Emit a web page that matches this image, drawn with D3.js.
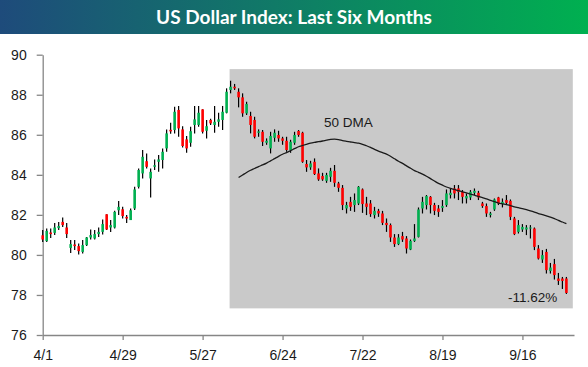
<!DOCTYPE html>
<html>
<head>
<meta charset="utf-8">
<script src="https://cdn.jsdelivr.net/npm/d3@7"></script>
<style>
    body { margin: 0; background: #fff; }
    #chart text { font-family: "Liberation Sans", Arial, sans-serif; }
</style>
</head>
<body>
<div id="chart"></div>
<script>
// US Dollar Index, daily candles from 4/1 (index 0) to the end of September
const tickLabels = ['4/1', '4/29', '5/27', '6/24', '7/22', '8/19', '9/16'];
const tickIndex = [0, 20, 40, 60, 80, 100, 120];
const yTicks = [76, 78, 80, 82, 84, 86, 88, 90];

const opens = [
    80.98, 80.69, 81.12, 81.10, 81.34, 81.65, 81.37, 80.35, 80.52, 80.44,
    80.15, 80.49, 80.87, 80.82, 81.04, 81.15, 82.03, 81.37, 81.37, 82.23,
    82.28, 81.90, 81.74, 82.32, 83.40, 84.07, 84.68, 83.82, 84.40, 84.65,
    84.74, 85.32, 86.25, 86.24, 87.24, 86.27, 85.77, 85.60, 86.49, 86.49,
    87.27, 86.20, 86.74, 86.49, 86.65, 86.74, 87.10, 88.24, 88.40, 88.15,
    87.87, 87.07, 86.94, 86.74, 86.10, 86.15, 85.60, 85.32, 85.85, 85.99,
    85.82, 85.70, 85.24, 85.60, 86.19, 86.10, 84.54, 84.37, 84.65, 84.07,
    83.94, 83.70, 83.90, 84.20, 83.57, 83.35, 82.32, 82.65, 82.49, 82.57,
    83.27, 82.57, 82.57, 81.99, 82.20, 82.07, 81.60, 81.49, 80.87, 80.54,
    80.94, 80.82, 80.27, 80.70, 80.90, 82.32, 82.49, 82.90, 82.49, 82.32,
    82.35, 82.49, 82.99, 83.32, 83.32, 83.15, 82.82, 82.87, 83.10, 83.10,
    82.57, 82.44, 81.99, 82.27, 82.87, 82.54, 82.74, 82.70, 81.82, 81.15,
    81.27, 81.27, 81.32, 81.32, 80.32, 79.77, 80.15, 79.20, 79.54, 78.82,
    78.82, 78.82
];
const highs = [
    81.24, 81.32, 81.32, 81.60, 81.65, 81.87, 81.60, 80.74, 80.74, 80.57,
    80.74, 80.90, 81.27, 81.24, 81.37, 81.77, 82.03, 81.74, 82.20, 82.69,
    82.40, 81.99, 82.32, 83.40, 84.32, 85.24, 85.07, 84.32, 84.77, 84.99,
    85.32, 86.27, 86.60, 87.40, 87.44, 86.43, 85.94, 86.40, 87.44, 87.44,
    87.27, 86.74, 86.80, 87.44, 87.10, 87.44, 88.32, 88.70, 88.54, 88.32,
    88.07, 87.65, 87.15, 86.90, 86.27, 86.24, 85.82, 86.15, 86.27, 86.20,
    85.90, 85.90, 85.75, 86.15, 86.24, 86.15, 84.74, 84.70, 84.82, 84.32,
    84.10, 84.10, 84.35, 84.49, 83.65, 83.49, 82.65, 82.90, 83.07, 83.44,
    83.32, 82.90, 82.74, 82.40, 82.30, 82.20, 81.82, 81.57, 81.04, 81.04,
    81.15, 80.94, 80.77, 81.54, 82.37, 82.90, 82.99, 82.94, 82.60, 82.49,
    82.74, 83.27, 83.32, 83.49, 83.49, 83.24, 83.07, 83.24, 83.32, 83.20,
    82.65, 82.57, 82.15, 82.82, 82.90, 82.82, 82.99, 82.77, 81.90, 81.74,
    81.54, 81.49, 81.49, 81.37, 80.49, 80.24, 80.30, 79.60, 79.80, 79.10,
    78.90, 78.90
];
const lows = [
    80.65, 80.65, 80.85, 81.00, 81.24, 81.40, 80.85, 80.10, 80.24, 80.02,
    80.07, 80.44, 80.77, 80.77, 80.90, 81.02, 81.24, 81.15, 81.32, 81.99,
    81.82, 81.60, 81.74, 82.24, 83.32, 83.82, 84.32, 82.87, 84.24, 84.15,
    84.32, 85.15, 86.05, 86.07, 85.90, 85.37, 85.10, 85.40, 86.07, 86.40,
    86.07, 85.82, 86.49, 86.10, 86.40, 86.24, 87.07, 88.07, 88.24, 87.37,
    86.90, 86.99, 86.07, 85.82, 85.90, 85.44, 85.50, 85.07, 85.65, 85.65,
    85.50, 85.15, 85.10, 85.50, 85.90, 84.60, 84.15, 84.25, 83.99, 83.70,
    83.70, 83.60, 83.65, 83.40, 83.15, 82.24, 82.07, 82.20, 82.15, 82.49,
    82.10, 81.99, 81.90, 81.82, 81.90, 81.49, 81.15, 80.65, 80.40, 80.49,
    80.65, 80.07, 80.24, 80.65, 80.87, 82.07, 82.27, 82.07, 81.99, 81.90,
    82.15, 82.40, 82.82, 82.82, 82.74, 82.57, 82.57, 82.74, 82.99, 82.74,
    82.35, 81.90, 81.87, 82.20, 82.49, 82.37, 82.49, 81.74, 80.99, 81.07,
    81.15, 80.99, 80.82, 80.24, 79.77, 79.60, 79.07, 79.07, 78.77, 78.50,
    78.30, 78.05
];
const closes = [
    80.77, 81.20, 81.04, 81.37, 81.44, 81.49, 81.04, 80.54, 80.44, 80.19,
    80.49, 80.87, 80.99, 81.04, 81.15, 81.54, 81.27, 81.49, 82.15, 82.40,
    81.94, 81.82, 82.23, 83.27, 84.24, 84.90, 84.40, 84.15, 84.48, 84.77,
    85.15, 86.07, 86.17, 87.15, 86.32, 85.44, 85.32, 86.18, 86.77, 87.10,
    86.15, 86.43, 86.57, 86.65, 86.77, 87.15, 88.15, 88.40, 88.32, 87.87,
    87.07, 87.54, 86.49, 85.90, 86.17, 85.65, 85.70, 85.94, 86.10, 85.82,
    85.70, 85.24, 85.65, 85.99, 85.99, 84.65, 84.37, 84.57, 84.04, 83.77,
    83.77, 83.99, 84.20, 83.60, 83.35, 82.49, 82.49, 82.40, 82.74, 83.40,
    82.54, 82.40, 82.04, 82.20, 82.07, 81.60, 81.49, 80.87, 80.54, 80.87,
    80.77, 80.32, 80.70, 80.82, 82.27, 82.65, 82.94, 82.49, 82.20, 82.15,
    82.44, 83.07, 83.10, 83.07, 83.15, 82.90, 82.94, 83.15, 83.20, 82.87,
    82.44, 82.07, 82.07, 82.77, 82.57, 82.65, 82.60, 81.90, 81.04, 81.49,
    81.40, 81.37, 81.37, 80.40, 79.82, 79.99, 79.24, 79.37, 78.99, 78.70,
    78.70, 78.10
];

// shaded window (index / value units) and annotations
const shadeX = [46.75, 132.6];
const shadeY = [77.33, 89.28];
const dmaWindow = 50;
const dmaLabel = '50 DMA';
const changeLabel = '-11.62%';

document.addEventListener('DOMContentLoaded', function() {
    drawChart();
});

function drawChart() {
    const width = 588;
    const height = 367;

    const svg = d3.select('#chart')
        .append('svg')
        .attr('width', width)
        .attr('height', height);

    // title banner
    const grad = svg.append('defs').append('linearGradient')
        .attr('id', 'titleGrad')
        .attr('x1', '0%').attr('x2', '100%');
    grad.append('stop').attr('offset', '0%').attr('stop-color', '#1e4b7b');
    grad.append('stop').attr('offset', '100%').attr('stop-color', '#00b050');

    svg.append('rect')
        .attr('x', 0).attr('y', 0)
        .attr('width', width).attr('height', 34)
        .attr('fill', 'url(#titleGrad)');

    svg.append('text')
        .attr('x', width / 2)
        .attr('y', 24)
        .attr('text-anchor', 'middle')
        .style('font-family', 'Lato, "Open Sans", sans-serif')
        .style('font-weight', 'bold')
        .style('font-size', '19px')
        .attr('fill', '#fff')
        .text('US Dollar Index: Last Six Months');

    const x = d3.scaleLinear()
        .domain([0, 132.9])
        .range([42.7, 574]);

    const y = d3.scaleLinear()
        .domain([76, 90])
        .range([335, 54.7]);

    // gray box over the decline
    svg.append('rect')
        .attr('x', x(shadeX[0]))
        .attr('y', y(shadeY[1]))
        .attr('width', x(shadeX[1]) - x(shadeX[0]))
        .attr('height', y(shadeY[0]) - y(shadeY[1]))
        .attr('fill', '#c9c9c9');

    // axes
    const yAxis = d3.axisLeft(y)
        .tickValues(yTicks)
        .tickSize(6)
        .tickSizeOuter(0)
        .tickPadding(10);

    const yG = svg.append('g')
        .attr('transform', `translate(${x(0)}, 0)`)
        .call(yAxis);

    const xAxis = d3.axisBottom(x)
        .tickValues(tickIndex)
        .tickFormat((d, i) => tickLabels[i])
        .tickSize(5)
        .tickSizeOuter(0)
        .tickPadding(10);

    const xG = svg.append('g')
        .attr('transform', `translate(0, ${y(76)})`)
        .call(xAxis);

    [yG, xG].forEach(g => {
        g.select('.domain').attr('stroke', '#868686').attr('stroke-width', 1.3);
        g.selectAll('.tick line').attr('stroke', '#868686').attr('stroke-width', 1.3);
        g.selectAll('.tick text')
            .attr('fill', '#1a1a1a')
            .style('font-size', '14px');
    });

    // candles
    const candles = opens.map((o, i) => ({ i: i, o: o, h: highs[i], l: lows[i], c: closes[i] }));

    const g = svg.append('g');

    g.selectAll('.wick')
        .data(candles)
        .enter()
        .append('line')
        .attr('class', 'wick')
        .attr('x1', d => x(d.i))
        .attr('x2', d => x(d.i))
        .attr('y1', d => y(d.h))
        .attr('y2', d => y(d.l))
        .attr('stroke', '#000')
        .attr('stroke-width', 1.2);

    g.selectAll('.body')
        .data(candles)
        .enter()
        .append('rect')
        .attr('class', 'body')
        .attr('x', d => x(d.i) - 1.3)
        .attr('width', 2.6)
        .attr('y', d => y(Math.max(d.o, d.c)))
        .attr('height', d => Math.max(1, Math.abs(y(d.o) - y(d.c))))
        .attr('fill', d => d.c >= d.o ? '#00b050' : '#ff0000');

    // 50 day moving average of the closes
    const dma = [];
    for (let i = dmaWindow - 1; i < closes.length; i++) {
        dma.push({ i: i, v: d3.mean(closes.slice(i - dmaWindow + 1, i + 1)) });
    }

    const line = d3.line()
        .x(d => x(d.i))
        .y(d => y(d.v))
        .curve(d3.curveMonotoneX);

    svg.append('path')
        .datum(dma)
        .attr('d', line)
        .attr('fill', 'none')
        .attr('stroke', '#1a1a1a')
        .attr('stroke-width', 1.3);

    svg.append('text')
        .attr('x', 324)
        .attr('y', 127)
        .style('font-size', '13.5px')
        .attr('fill', '#1a1a1a')
        .text(dmaLabel);

    svg.append('text')
        .attr('x', 508)
        .attr('y', 302)
        .style('font-size', '13.5px')
        .attr('fill', '#1a1a1a')
        .text(changeLabel);
}
</script>
</body>
</html>
